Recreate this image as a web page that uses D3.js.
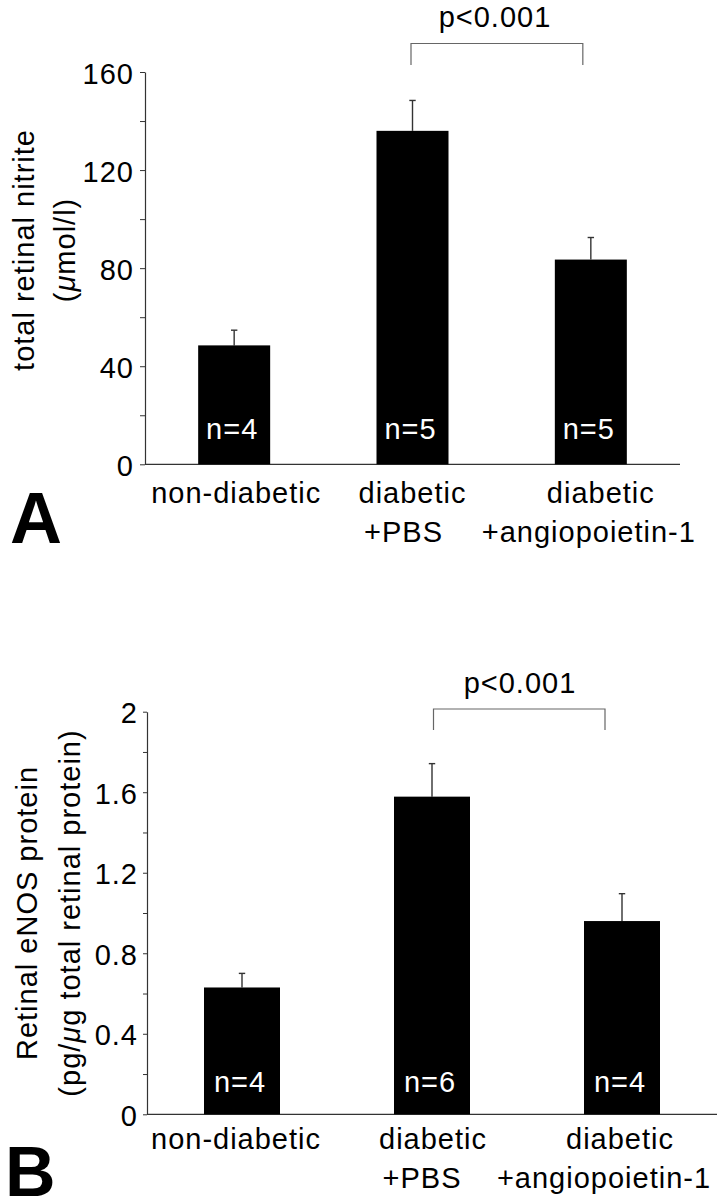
<!DOCTYPE html>
<html>
<head>
<meta charset="utf-8">
<script src="https://cdn.jsdelivr.net/npm/d3@7"></script>
<style>
  html, body { margin: 0; padding: 0; background: #fff; }
  svg { display: block; }
  text { font-family: "Liberation Sans", Arial, Helvetica, sans-serif; }
</style>
</head>
<body>
<svg id="chart" width="724" height="1199"></svg>
<script>
// ---- Data ----
const categories = ["non-diabetic", "diabetic|+PBS", "diabetic|+angiopoietin-1"];

// Panel A: total retinal nitrite (µmol/l)
const nitriteMeans = [48.5, 136, 83.5];
const nitriteErrors = [6.2, 12.4, 9];
const nitriteN = [4, 5, 5];
const nitriteTicks = [0, 40, 80, 120, 160];
const nitriteMinorTicks = [20, 60, 100, 140];

// Panel B: retinal eNOS protein (pg/µg total retinal protein)
const enosMeans = [0.63, 1.578, 0.96];
const enosErrors = [0.07, 0.164, 0.136];
const enosN = [4, 6, 4];
const enosTicks = [0, 0.4, 0.8, 1.2, 1.6, 2];
const enosMinorTicks = [0.2, 0.6, 1.0, 1.4, 1.8];

const pLabel = "p<0.001";

// ---- Drawing ----
const svg = d3.select("#chart");
const FONT = 29, LS = "1px";

function panel(cfg) {
  const g = svg.append("g");
  const x = d3.scalePoint().domain(categories).range([cfg.x0, cfg.x1]).padding(0.5);
  const y = d3.scaleLinear().domain([0, cfg.ymax]).range([cfg.yBottom, cfg.yTop]);
  const data = categories.map((c, i) => ({ c, m: cfg.means[i], e: cfg.errors[i], n: cfg.ns[i], i }));

  // minor ticks
  g.append("g").attr("transform", `translate(${cfg.x0},0)`)
    .call(d3.axisLeft(y).tickValues(cfg.minor).tickSize(cfg.tick).tickFormat(""))
    .call(a => a.select(".domain").remove())
    .call(a => a.selectAll("line").attr("stroke", "#333").attr("stroke-width", 1));

  // major axis
  const ax = g.append("g").attr("transform", `translate(${cfg.x0},0)`)
    .call(d3.axisLeft(y).tickValues(cfg.ticks).tickSize(cfg.tick).tickSizeOuter(0).tickPadding(cfg.tickPad)
      .tickFormat(d => String(+d.toFixed(2))));
  ax.select(".domain").attr("stroke", "#333").attr("stroke-width", 1.2);
  ax.selectAll("line").attr("stroke", "#333").attr("stroke-width", 1);
  ax.selectAll("text").attr("font-size", FONT).attr("letter-spacing", LS).attr("fill", "#000")
    .attr("font-family", '"Liberation Sans", Arial, Helvetica, sans-serif').attr("dy", "0.38em");

  // x baseline
  g.append("line").attr("x1", cfg.x0).attr("x2", cfg.x1)
    .attr("y1", y(0)).attr("y2", y(0)).attr("stroke", "#333").attr("stroke-width", 1.2);

  // error bars
  g.selectAll(".err").data(data).join("line")
    .attr("x1", d => x(d.c)).attr("x2", d => x(d.c))
    .attr("y1", d => y(d.m)).attr("y2", d => y(d.m + d.e))
    .attr("stroke", "#333").attr("stroke-width", 1.4);
  g.selectAll(".cap").data(data).join("line")
    .attr("x1", d => x(d.c) - 3.2).attr("x2", d => x(d.c) + 3.2)
    .attr("y1", d => y(d.m + d.e)).attr("y2", d => y(d.m + d.e))
    .attr("stroke", "#333").attr("stroke-width", 1.4);

  // bars
  g.selectAll(".bar").data(data).join("rect")
    .attr("x", d => x(d.c) - cfg.barW / 2).attr("width", cfg.barW)
    .attr("y", d => y(d.m)).attr("height", d => y(0) - y(d.m))
    .attr("fill", "#000");

  // n labels
  g.selectAll(".nlab").data(data).join("text")
    .attr("x", d => x(d.c) - 2).attr("y", y(0) - cfg.nOff)
    .attr("text-anchor", "middle").attr("font-size", FONT).attr("letter-spacing", LS)
    .attr("fill", "#fff").text(d => "n=" + d.n);

  // category labels
  data.forEach((d, i) => {
    const lines = d.c.split("|");
    lines.forEach((ln, j) => {
      g.append("text")
        .attr("x", x(d.c) + cfg.labDx[i][j]).attr("y", y(0) + cfg.lab1 + j * 38.5)
        .attr("text-anchor", "middle").attr("font-size", FONT).attr("letter-spacing", LS)
        .attr("fill", "#000").text(ln);
    });
  });

  // y-axis title (two lines, rotated)
  cfg.title.forEach((t, j) => {
    const tx = g.append("text")
      .attr("transform", `translate(${cfg.titleX[j]},${cfg.titleY}) rotate(-90)`)
      .attr("text-anchor", "middle").attr("font-size", FONT).attr("letter-spacing", LS).attr("fill", "#000");
    t.forEach(part => {
      tx.append("tspan").attr("font-style", part.i ? "italic" : null).text(part.s);
    });
  });

  // significance bracket
  const bx1 = x(categories[1]) + cfg.brDx[0], bx2 = x(categories[2]) + cfg.brDx[1];
  g.append("path")
    .attr("d", `M${bx1},${cfg.brBottom}V${cfg.brTop}H${bx2}V${cfg.brBottom}`)
    .attr("fill", "none").attr("stroke", "#666").attr("stroke-width", 1.2);
  g.append("text").attr("x", cfg.pX).attr("y", cfg.pY)
    .attr("text-anchor", "middle").attr("font-size", FONT).attr("letter-spacing", LS)
    .attr("fill", "#000").text(pLabel);

  // panel letter
  g.append("text").attr("x", cfg.letterX).attr("y", cfg.letterY)
    .attr("font-size", cfg.letterSize).attr("font-weight", "bold").attr("fill", "#000").text(cfg.letter);
}

panel({
  means: nitriteMeans, errors: nitriteErrors, ns: nitriteN, ticks: nitriteTicks, minor: nitriteMinorTicks,
  ymax: 160, x0: 145, x1: 680, yTop: 72, yBottom: 464.3, barW: 72, tick: 5, tickPad: 6,
  nOff: 25, lab1: 39, labDx: [[2, 0], [0, -9], [10, -2]],
  title: [[{ s: "total retinal nitrite" }], [{ s: "(" }, { s: "\u03bc", i: true }, { s: "mol/l)" }]],
  titleX: [34, 75], titleY: 250,
  brDx: [-1.5, -8], brTop: 43.5, brBottom: 65, pX: 495, pY: 26.5,
  letter: "A", letterX: 10, letterY: 543, letterSize: 72
});

panel({
  means: enosMeans, errors: enosErrors, ns: enosN, ticks: enosTicks, minor: enosMinorTicks,
  ymax: 2, x0: 147, x1: 717, yTop: 711.7, yBottom: 1114.3, barW: 76, tick: 4, tickPad: 5,
  nOff: 22.5, lab1: 35, labDx: [[-6, 0], [1, -10], [-2, -18]],
  title: [[{ s: "Retinal eNOS protein" }], [{ s: "(pg/" }, { s: "\u03bc", i: true }, { s: "g total retinal protein)" }]],
  titleX: [37, 80], titleY: 913,
  brDx: [1.5, -17], brTop: 709, brBottom: 730, pX: 520, pY: 693,
  letter: "B", letterX: 5, letterY: 1196, letterSize: 70
});
</script>
</body>
</html>
